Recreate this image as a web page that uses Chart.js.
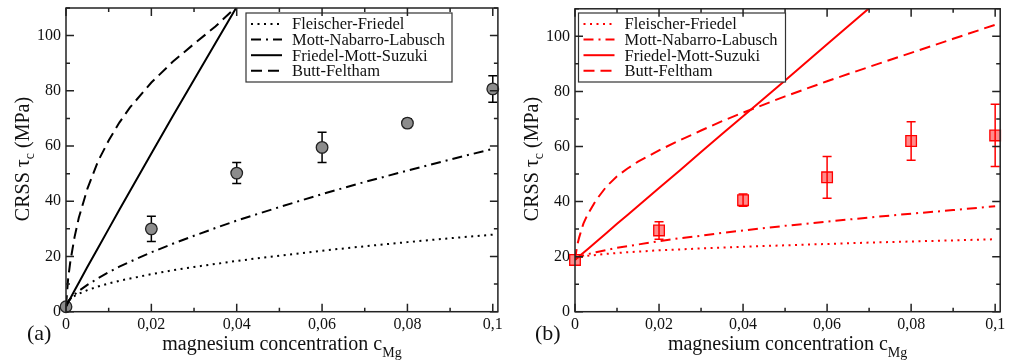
<!DOCTYPE html>
<html>
<head>
<meta charset="utf-8">
<script src="https://cdn.jsdelivr.net/npm/chart.js@4.4.1/dist/chart.umd.min.js"></script>
<style>
  html, body { margin: 0; padding: 0; background: #fff; }
  #wrap { position: relative; width: 1009px; height: 362px; overflow: hidden; }
  canvas { position: absolute; top: 0; }
  #chartA { left: 0; }
  #chartB { left: 505px; }
</style>
</head>
<body>
<div id="wrap">
  <canvas id="chartA" width="505" height="362"></canvas>
  <canvas id="chartB" width="504" height="362"></canvas>
</div>
<script>
const cGrid = [0, 0.0005, 0.001, 0.002, 0.003, 0.005, 0.0075, 0.01, 0.0125, 0.015, 0.02, 0.025, 0.03, 0.035, 0.04, 0.05, 0.06, 0.07, 0.08, 0.09, 0.1];
const curveNames = ['Fleischer-Friedel', 'Mott-Nabarro-Labusch', 'Friedel-Mott-Suzuki', 'Butt-Feltham'];

// panel (a), CRSS in MPa
const ffA  = [2, 3.8, 4.6, 5.7, 6.5, 7.8, 9.1, 10.2, 11.2, 12, 13.6, 15, 16.2, 17.3, 18.4, 20.3, 22.1, 23.7, 25.2, 26.6, 27.9];
const mnlA = [2, 3.7, 4.6, 6.2, 7.5, 9.7, 12.1, 14.3, 16.3, 18.1, 21.5, 24.6, 27.5, 30.3, 33, 37.9, 42.6, 47, 51.1, 55.1, 59];
const fmsA = [1.8, 3.3, 4.8, 7.7, 10.5, 16.2, 23.1, 30, 36.9, 43.7, 57.3, 70.8, 84, 97.2, 110.4, null, null, null, null, null, null];
const bfA  = [2, 12, 18, 27, 34, 44.5, 54.5, 62, 68.5, 74, 83, 90.5, 97, 103.3, 110.5, null, null, null, null, null, null];

// panel (b)
const ffB  = [19, 19.5, 19.7, 20, 20.3, 20.6, 21, 21.3, 21.6, 21.8, 22.3, 22.6, 23, 23.3, 23.6, 24.1, 24.6, 25.1, 25.5, 25.9, 26.3];
const mnlB = [19, 19.6, 19.9, 20.4, 20.9, 21.6, 22.4, 23.2, 23.8, 24.4, 25.6, 26.7, 27.6, 28.6, 29.5, 31.2, 32.7, 34.2, 35.6, 36.9, 38.3];
const fmsB = [18.8, 19.5, 20.1, 21.4, 22.7, 25.3, 28.6, 31.9, 35.1, 38.4, 44.9, 51.4, 58, 64.5, 71, 84, 97.1, 110.2, null, null, null];
const bfB  = [18.8, 24, 27, 32, 35.3, 40.5, 45.5, 49.2, 52, 54.5, 58.6, 62.3, 65.8, 69.2, 72.3, 78.2, 83.7, 88.9, 94, 99.1, 104.2];

// measured points with error bars
const cMeas = [0, 0.02, 0.04, 0.06, 0.08, 0.1];
const tauA = [1.8, 30, 50.2, 59.5, 68.3, 80.7];
const errA = [0, 4.6, 3.8, 5.5, 1.6, 4.8];
const tauB = [18.8, 29.5, 40.5, 48.8, 62, 64];
const errB = [0, 3.2, 2.2, 7.6, 7, 11.3];

const SERIF = '"Liberation Serif", "Times New Roman", serif';
const dashes = [[2, 4.5], [10, 5, 2, 5], [], [11, 6]];
const toXY = (xs, ys) => xs.map((x, i) => ({ x, y: ys[i] })).filter(p => p.y !== null);

const fmtX = (v) => {
  const k = Math.round(v * 100);
  if (k % 2) return '';
  return k === 0 ? '0' : String(k / 100).replace('.', ',');
};
const fmtY = (v) => (v % 20 === 0 && v <= 100) ? String(v) : '';

function makeDecor(p) {
  return {
    id: 'decor',
    beforeDatasetsDraw(chart) {
      const { ctx, scales: { x, y } } = chart;
      ctx.save();
      ctx.strokeStyle = p.color;
      ctx.lineWidth = 1.5;
      p.tau.forEach((t, i) => {
        const e = p.err[i];
        if (!e) return;
        const px = x.getPixelForValue(cMeas[i]);
        const y1 = y.getPixelForValue(t + e), y2 = y.getPixelForValue(t - e);
        ctx.beginPath();
        ctx.moveTo(px, y1); ctx.lineTo(px, y2);
        ctx.moveTo(px - 4.5, y1); ctx.lineTo(px + 4.5, y1);
        ctx.moveTo(px - 4.5, y2); ctx.lineTo(px + 4.5, y2);
        ctx.stroke();
      });
      ctx.restore();
    },
    afterDatasetsDraw(chart) {
      // legend box inside the plot
      const { ctx } = chart;
      const b = p.legend;
      ctx.save();
      ctx.fillStyle = '#fff';
      ctx.fillRect(b.x, b.y, b.w, b.h);
      ctx.strokeStyle = '#333';
      ctx.lineWidth = 1.2;
      ctx.strokeRect(b.x, b.y, b.w, b.h);
      ctx.font = '16.5px ' + SERIF;
      ctx.textBaseline = 'middle';
      chart.data.datasets.slice(0, 4).forEach((ds, i) => {
        const ry = b.y + 11 + i * 15.6;
        ctx.strokeStyle = ds.borderColor;
        ctx.lineWidth = ds.borderWidth;
        ctx.setLineDash(ds.borderDash);
        ctx.beginPath();
        ctx.moveTo(b.x + 5, ry); ctx.lineTo(b.x + 36, ry);
        ctx.stroke();
        ctx.setLineDash([]);
        ctx.fillStyle = '#111';
        ctx.fillText(ds.label, b.x + 46, ry + 1);
      });
      ctx.restore();
    },
    afterDraw(chart) {
      const { ctx, chartArea: a, scales: { x, y } } = chart;
      ctx.save();
      ctx.strokeStyle = '#222';
      ctx.lineWidth = 1.5;
      ctx.strokeRect(a.left, a.top, a.right - a.left, a.bottom - a.top);
      ctx.beginPath();
      x.ticks.forEach(t => {
        const px = x.getPixelForValue(t.value);
        const len = t.label ? 8 : 4;
        ctx.moveTo(px, a.bottom); ctx.lineTo(px, a.bottom - len);
        ctx.moveTo(px, a.top); ctx.lineTo(px, a.top + len);
      });
      y.ticks.forEach(t => {
        const py = y.getPixelForValue(t.value);
        const len = t.label ? 8 : 4;
        ctx.moveTo(a.left, py); ctx.lineTo(a.left + len, py);
        ctx.moveTo(a.right, py); ctx.lineTo(a.right - len, py);
      });
      ctx.stroke();

      // axis titles with subscripts
      ctx.fillStyle = '#111';
      ctx.textBaseline = 'alphabetic';
      const big = '20px ' + SERIF, small = '14px ' + SERIF;
      ctx.font = big;
      const m1 = ctx.measureText('magnesium concentration c').width;
      ctx.font = small;
      const m2 = ctx.measureText('Mg').width;
      const sx = (a.left + a.right) / 2 - (m1 + m2) / 2;
      ctx.font = big;
      ctx.fillText('magnesium concentration c', sx, 349.5);
      ctx.font = small;
      ctx.fillText('Mg', sx + m1, 357);

      ctx.save();
      ctx.translate(p.yTitleX, 159);
      ctx.rotate(-Math.PI / 2);
      ctx.font = big;
      const w1 = ctx.measureText('CRSS \u03c4').width;
      const w3 = ctx.measureText(' (MPa)').width;
      ctx.font = small;
      const w2 = ctx.measureText('c').width;
      const tx = -(w1 + w2 + w3) / 2;
      ctx.font = big;
      ctx.fillText('CRSS \u03c4', tx, 0);
      ctx.font = small;
      ctx.fillText('c', tx + w1, 5);
      ctx.font = big;
      ctx.fillText(' (MPa)', tx + w1 + w2, 0);
      ctx.restore();

      ctx.font = '22px ' + SERIF;
      ctx.fillText(p.tag, p.tagX, 340);
      ctx.restore();
    }
  };
}

function makeChart(id, p) {
  const lines = [p.ff, p.mnl, p.fms, p.bf].map((vals, i) => ({
    label: curveNames[i],
    'data': toXY(cGrid, vals),
    showLine: true,
    pointRadius: 0,
    borderColor: p.color,
    borderWidth: 2,
    borderDash: dashes[i],
    fill: false
  }));
  const pts = {
    label: 'measured',
    'data': toXY(cMeas, p.tau),
    showLine: false,
    pointStyle: p.marker,
    pointRadius: p.marker === 'rect' ? 7.5 : 5.8,
    pointBackgroundColor: p.fill,
    pointBorderColor: p.color === '#000' ? '#222' : p.color,
    pointBorderWidth: 1.3,
    clip: false
  };
  const chartData = { datasets: [...lines, pts] };
  return new Chart(document.getElementById(id), {
    type: 'scatter',
    'data': chartData,
    options: {
      responsive: false,
      animation: false,
      events: [],
      devicePixelRatio: 1,
      layout: { padding: { left: 0, right: p.padRight, top: 8, bottom: 0 } },
      plugins: { legend: { display: false }, tooltip: { enabled: false } },
      scales: {
        x: {
          type: 'linear', min: 0, max: 0.1012,
          grid: { display: false, drawTicks: false }, border: { display: false },
          ticks: { stepSize: 0.01, includeBounds: false, autoSkip: false, maxRotation: 0, padding: 3,
                   color: '#111', font: { family: SERIF, size: 16 }, callback: fmtX },
          afterFit: (s) => { s.height = 50.3; s.paddingLeft = 0; s.paddingRight = 0; }
        },
        y: {
          type: 'linear', min: 0, max: 110,
          grid: { display: false, drawTicks: false }, border: { display: false },
          ticks: { stepSize: 10, autoSkip: false, padding: 5,
                   color: '#111', font: { family: SERIF, size: 16 }, callback: fmtY },
          afterFit: (s) => { s.width = p.yWidth; s.paddingTop = 0; s.paddingBottom = 0; }
        }
      }
    },
    plugins: [makeDecor(p)]
  });
}

makeChart('chartA', {
  ff: ffA, mnl: mnlA, fms: fmsA, bf: bfA, tau: tauA, err: errA,
  color: '#000', fill: '#8c8c8c', marker: 'circle',
  yWidth: 66, padRight: 6, yTitleX: 28.5, tag: '(a)', tagX: 27,
  legend: { x: 246, y: 13, w: 206, h: 69 }
});
makeChart('chartB', {
  ff: ffB, mnl: mnlB, fms: fmsB, bf: bfB, tau: tauB, err: errB,
  color: '#ff0000', fill: 'rgba(255,0,0,0.45)', marker: 'rect',
  yWidth: 70, padRight: 1.5, yTitleX: 32.5, tag: '(b)', tagX: 30,
  legend: { x: 73.5, y: 13, w: 207, h: 69 }
});
</script>
</body>
</html>
